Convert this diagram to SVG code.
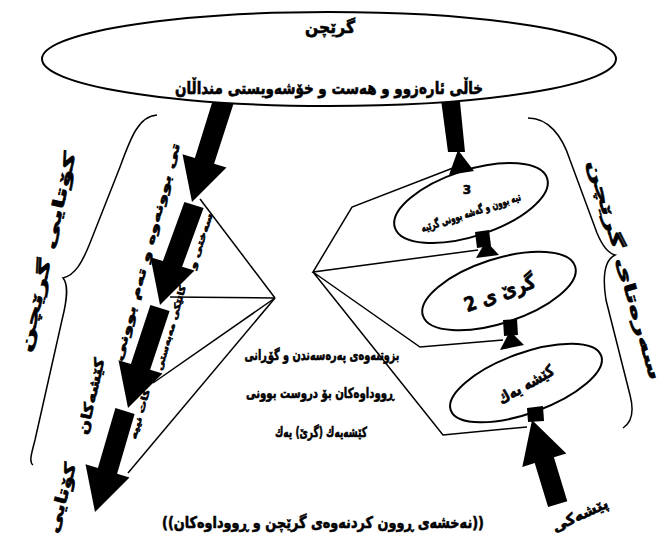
<svg xmlns="http://www.w3.org/2000/svg" width="658" height="539" viewBox="0 0 658 539">
<style>
.t{font-family:"DejaVu Sans","Noto Sans",sans-serif;font-weight:bold;fill:#000;stroke:#000;stroke-width:0.6;text-anchor:middle}
.ln{fill:none;stroke:#000;stroke-width:1.5}
.ar{fill:#000}
.nd{fill:#fff;stroke:#000;stroke-width:2}
</style>
<rect width="658" height="539" fill="#fff"/>
<g id="connectors">
  <polygon class="ar" points="236,96 214.1,163.8 226.5,167.5 192,202 182.5,154.2 194.9,158 216,90"/>
  <polygon class="ar" points="203.6,207.9 182.1,266.8 194.5,270.5 160,305 150.5,257.2 162.9,261 184.4,202.1"/>
  <polygon class="ar" points="169.6,310.9 150.1,369.8 162.5,373.5 128,408 118.5,360.2 130.9,364 150.4,305.1"/>
  <polygon class="ar" points="134.6,413.9 117.1,473.8 129.5,477.5 95,512 85.5,464.2 97.9,468 115.4,408.1"/>
  <polygon class="ar" points="440,92 459,92 465,152 448,152"/>
  <polyline class="ln" points="200,199 275,298"/>
  <polyline class="ln" points="170,297 275,298"/>
  <polyline class="ln" points="153,383 275,298"/>
  <polyline class="ln" points="128,473 275,298"/>
  <polyline class="ln" points="453,168 352,207 313,272 478,250"/>
  <polyline class="ln" points="503,340 420,347 313,272 443,435 527,427"/>
</g>
<g id="node-top">
  <ellipse class="nd" cx="329" cy="59" rx="287" ry="47"/>
  <text class="t" x="330" y="33" font-size="17" textLength="50" lengthAdjust="spacingAndGlyphs">گرێچن</text>
  <text class="t" x="329" y="94" font-size="17" textLength="308" lengthAdjust="spacingAndGlyphs">خاڵی ئارەزوو و هەست و خۆشەویستی منداڵان</text>
</g>
<g id="node-3">
  <ellipse class="nd" cx="471" cy="203" rx="80" ry="33" transform="rotate(-18 471 203)"/>
  <text class="t" x="467" y="194" font-size="12">3</text>
  <text class="t" font-size="11" textLength="104" lengthAdjust="spacingAndGlyphs" transform="translate(472,216) rotate(-18)" x="0" y="0">تیە بوون و گەشە بوونی گرێیە</text>
</g>
<g id="node-2">
  <ellipse class="nd" cx="499" cy="291" rx="80" ry="32" transform="rotate(-18 499 291)"/>
  <text class="t" font-size="20" textLength="74" lengthAdjust="spacingAndGlyphs" transform="translate(500,294) rotate(-20)" x="0" y="6">گرێ ی 2</text>
</g>
<g id="node-1">
  <ellipse class="nd" cx="526" cy="383" rx="80" ry="30" transform="rotate(-20 526 383)"/>
  <text class="t" font-size="16" textLength="62" lengthAdjust="spacingAndGlyphs" transform="translate(526,385) rotate(-30)" x="0" y="5">کێشە یەك</text>
</g>
<g id="right-arrows">
  <polygon class="ar" points="458,150 449,175 474,171"/>
  <polygon class="ar" points="475,232 489,230 491,246 477,248"/>
  <polygon class="ar" points="486,241 476,258 499,255"/>
  <polygon class="ar" points="503,320 517,319 518,335 504,336"/>
  <polygon class="ar" points="510,331 500,350 524,345"/>
  <polygon class="ar" points="527,408 543,406 544,421 528,422"/>
  <polygon class="ar" points="567.3,501.3 553.9,457.3 566.3,453.5 532,420 522.3,466.9 534.7,463.1 548.1,507.1"/>
</g>
<g id="braces">
  <path class="ln" d="M157,115 C138,116 130,140 120,167 L90,243 C82,263 75,275 63,278 C69,285 67,300 62,320 L35,440 C31,455 29,462 33,465"/>
  <path class="ln" d="M528,118 C548,118 562,135 570,160 L597,233 C602,245 607,253 615,255 C605,260 602,275 606,300 L630,395 C634,410 632,422 623,428"/>
</g>
<g id="labels">
  <text class="t" font-size="16" textLength="205" lengthAdjust="spacingAndGlyphs" transform="translate(48,252) rotate(-77)" x="0" y="5">کۆتایی گرێچن</text>
  <text class="t" font-size="16" textLength="228" lengthAdjust="spacingAndGlyphs" transform="translate(624,270) rotate(74)" x="0" y="5">سەرەتای گرێچن</text>
  <text class="t" font-size="12" textLength="225" lengthAdjust="spacingAndGlyphs" transform="translate(147,252) rotate(-75)" x="0" y="4">تی بوونەوە و تەم بوونی</text>
  <text class="t" font-size="14" textLength="78" lengthAdjust="spacingAndGlyphs" transform="translate(91,396) rotate(-77)" x="0" y="5">کێشەکان</text>
  <text class="t" font-size="16" textLength="72" lengthAdjust="spacingAndGlyphs" transform="translate(62,498) rotate(-75)" x="0" y="5">کۆتایی</text>
  <text class="t" font-size="9" textLength="58" lengthAdjust="spacingAndGlyphs" transform="translate(201,241) rotate(-72)" x="0" y="3">سەختی و</text>
  <text class="t" font-size="9" textLength="88" lengthAdjust="spacingAndGlyphs" transform="translate(171,328) rotate(-74)" x="0" y="3">کاتێکی مەبەستی</text>
  <text class="t" font-size="9" textLength="52" lengthAdjust="spacingAndGlyphs" transform="translate(140,414) rotate(-74)" x="0" y="3">کات نییە</text>
  <text class="t" font-size="14" x="322" y="360" textLength="155" lengthAdjust="spacingAndGlyphs">بزوتنەوەی پەرەسەندن و گۆڕانی</text>
  <text class="t" font-size="14" x="320" y="398" textLength="148" lengthAdjust="spacingAndGlyphs">ڕووداوەکان بۆ دروست بوونی</text>
  <text class="t" font-size="14" x="321" y="437" textLength="92" lengthAdjust="spacingAndGlyphs">کێشەیەك (گرێ) یەك</text>
  <text class="t" font-size="16" x="323" y="528" textLength="322" lengthAdjust="spacingAndGlyphs">((نەخشەی ڕوون کردنەوەی گرێچن و ڕووداوەکان))</text>
  <text class="t" font-size="15" textLength="60" lengthAdjust="spacingAndGlyphs" transform="translate(580,515) rotate(-25)" x="0" y="5">پێشەکی</text>
</g>
</svg>
